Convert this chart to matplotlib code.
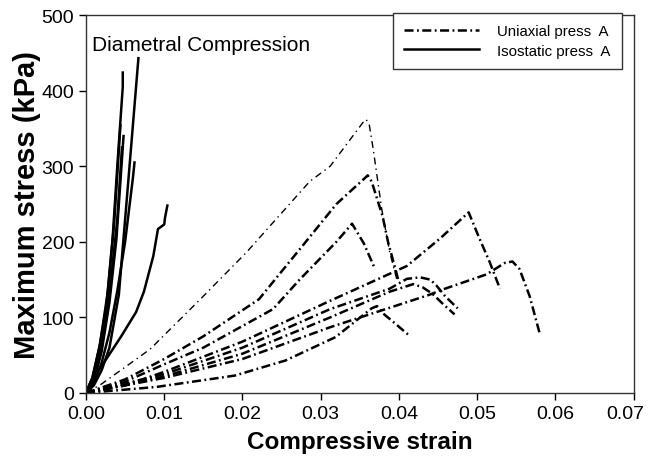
import matplotlib
matplotlib.use("Agg")
import matplotlib.pyplot as plt
from matplotlib.lines import Line2D
from matplotlib.transforms import ScaledTranslation

plt.rcParams['font.family'] = ['Liberation Sans', 'DejaVu Sans']
plt.rcParams['lines.scale_dashes'] = False

# ---------------- Data ----------------
# Uniaxial press A (dash-dot curves): strain, stress (kPa)
uni1_x = [0, 0.002, 0.0082, 0.0147, 0.0205, 0.0286, 0.0312, 0.0354, 0.0358, 0.0362, 0.0367, 0.0378, 0.0388, 0.0397]
uni1_y = [0, 12, 58, 125, 186, 280, 300, 358, 362, 355, 323, 243, 187, 151]

uni2_x = [0, 0.005, 0.01, 0.015, 0.0221, 0.0273, 0.032, 0.0356, 0.036, 0.0365, 0.0379, 0.0386, 0.0392, 0.0399]
uni2_y = [0, 18, 45, 75, 124, 190, 250, 284, 288, 280, 234, 200, 177, 150]

uni3_x = [0, 0.005, 0.01, 0.015, 0.0239, 0.0273, 0.032, 0.034, 0.0355, 0.0369]
uni3_y = [0, 15, 38, 60, 111, 150, 200, 224, 198, 165]

uni4_x = [0, 0.005, 0.01, 0.02, 0.0312, 0.041, 0.0452, 0.0489, 0.0503, 0.0516, 0.0529]
uni4_y = [0, 10, 28, 68, 122, 168, 204, 239, 204, 173, 138]

uni5_x = [0, 0.01, 0.02, 0.0312, 0.0439, 0.0456, 0.0512, 0.0535, 0.0545, 0.0554, 0.0567, 0.058]
uni5_y = [0, 20, 45, 87, 130, 137, 157, 172, 174, 164, 128, 78]

uni6_x = [0, 0.01, 0.02, 0.0312, 0.0388, 0.041, 0.0427, 0.044, 0.0448, 0.0459, 0.0475]
uni6_y = [0, 25, 60, 111, 138, 151, 153, 150, 142, 128, 112]

uni7_x = [0, 0.01, 0.02, 0.0312, 0.0388, 0.0418, 0.043, 0.0443, 0.0456, 0.0471]
uni7_y = [0, 22, 52, 100, 134, 144, 140, 131, 118, 104]

uni8_x = [0, 0.009, 0.019, 0.0255, 0.0319, 0.0365, 0.0372, 0.038, 0.0395, 0.0412]
uni8_y = [0, 8, 23, 43, 74, 112, 115, 105, 92, 77]

# Isostatic press A (solid curves)
iso1_x = [0, 0.001, 0.002, 0.003, 0.0042, 0.0055, 0.0067]
iso1_y = [0, 10, 30, 60, 130, 292, 443]

iso2_x = [0, 0.0008, 0.0017, 0.0026, 0.0034, 0.004, 0.0047, 0.0047]
iso2_y = [0, 20, 60, 115, 204, 300, 405, 424]

iso3_x = [0, 0.0008, 0.0018, 0.0028, 0.0036, 0.0044]
iso3_y = [0, 18, 65, 135, 225, 354]

iso4_x = [0, 0.001, 0.002, 0.003, 0.0039, 0.0048]
iso4_y = [0, 15, 55, 120, 205, 340]

iso5_x = [0, 0.001, 0.002, 0.003, 0.004, 0.0046]
iso5_y = [0, 18, 60, 130, 230, 325]

iso6_x = [0, 0.001, 0.002, 0.003, 0.004, 0.005, 0.006, 0.0062]
iso6_y = [0, 12, 40, 80, 135, 200, 285, 305]

iso7_x = [0, 0.0006, 0.0026, 0.0045, 0.0064, 0.0074, 0.0086, 0.0092, 0.01, 0.0101, 0.0104]
iso7_y = [0, 15, 45, 75, 107, 134, 181, 217, 223, 232, 248]

xticks = [0.00, 0.01, 0.02, 0.03, 0.04, 0.05, 0.06, 0.07]
yticks = [0, 100, 200, 300, 400, 500]

# ---------------- Plot ----------------
fig = plt.figure(figsize=(6.48, 4.60), dpi=100)
ax = fig.add_axes([0.1327, 0.1435, 0.978 - 0.1327, 0.965 - 0.1435])

thick = dict(color='black', lw=1.8, dashes=(6.5, 2.5, 1.3, 2.5))
thin = dict(color='black', lw=1.0, dashes=(5, 3, 1.0, 3))

ax.plot(uni1_x, uni1_y, **thin)
for xs, ys in [(uni2_x, uni2_y), (uni3_x, uni3_y), (uni4_x, uni4_y), (uni5_x, uni5_y),
               (uni6_x, uni6_y), (uni7_x, uni7_y), (uni8_x, uni8_y)]:
    ax.plot(xs, ys, **thick)

for xs, ys in [(iso1_x, iso1_y), (iso2_x, iso2_y), (iso3_x, iso3_y), (iso4_x, iso4_y),
               (iso5_x, iso5_y), (iso6_x, iso6_y), (iso7_x, iso7_y)]:
    ax.plot(xs, ys, color='black', lw=1.8, solid_joinstyle='round')

ax.set_xlim(0, 0.07)
ax.set_ylim(0, 500)
ax.set_xticks(xticks)
ax.set_xticklabels([f"{v:.2f}" for v in xticks])
ax.set_yticks(yticks)
ax.tick_params(axis='both', direction='out', length=5, width=1.0, labelsize=14,
               top=False, right=False)
for sp in ax.spines.values():
    sp.set_linewidth(1.0)
    sp.set_color('#333333')

# last x tick label nudged left so it stays inside the figure
last = ax.get_xticklabels()[-1]
last.set_transform(last.get_transform() + ScaledTranslation(-0.08, 0, fig.dpi_scale_trans))

ax.set_xlabel("Compressive strain", fontsize=17.5, fontweight='bold', labelpad=6)
ax.set_ylabel("Maximum stress (kPa)", fontsize=21, fontweight='bold', labelpad=0)

ax.text(0.0008, 461, "Diametral Compression", fontsize=15, va='center', ha='left')

handles = [Line2D([], [], **thick), Line2D([], [], color='black', lw=1.8)]
leg = ax.legend(handles, ["Uniaxial press  A", "Isostatic press  A"], loc='upper right',
                bbox_to_anchor=(0.978, 1.005), borderaxespad=0, fontsize=10.8,
                handlelength=5.0, handletextpad=1.2, fancybox=False, framealpha=1,
                edgecolor='#333333', borderpad=0.75, labelspacing=0.35)
leg.get_frame().set_linewidth(1.0)

fig.savefig("out.png", dpi=100)
